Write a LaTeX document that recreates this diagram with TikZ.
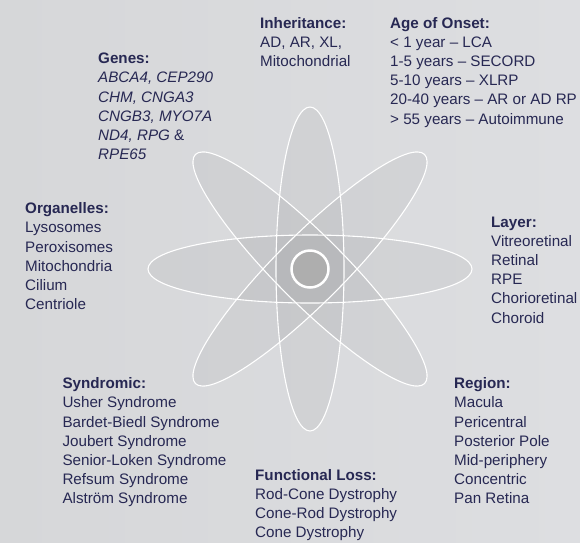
\documentclass[tikz,border=0pt]{standalone}
\usepackage{fontspec}
\setmainfont{Liberation Sans}
\definecolor{ink}{HTML}{272853}
\definecolor{bgl}{HTML}{D6D7D9}
\definecolor{bgr}{HTML}{DDDEE1}
\definecolor{hubgray}{HTML}{AEAEAE}
\begin{document}
\begin{tikzpicture}[x=1pt,y=-1pt,
  lbl/.style={anchor=north west, inner sep=0pt, align=left, text=ink,
              font=\fontsize{15.2}{19.2}\selectfont},
  petal/.style={fill=black, fill opacity=0.04},
  petaledge/.style={draw=white, line width=1.1pt},
  hubstyle/.style={circle, fill=hubgray, draw=white, line width=2.5pt,
                   minimum size=37pt, inner sep=0pt}]
\fill[left color=bgl, right color=bgr] (0,0) rectangle (580,542);
\useasboundingbox (0,0) rectangle (580,542);
\coordinate (c) at (310,269);
\foreach \a in {0,45,90,135}{
  \fill[petal, rotate around={\a:(c)}] (c) ellipse [x radius=162pt, y radius=34pt];
}
\foreach \a in {0,45,90,135}{
  \draw[petaledge, rotate around={\a:(c)}] (c) ellipse [x radius=162pt, y radius=34pt];
}
\node[hubstyle] (hub) at (c) {};

\node[lbl] (genes) at (98,52.8) {\textbf{Genes:}\\ \textit{ABCA4, CEP290}\\ \textit{CHM, CNGA3}\\ \textit{CNGB3, MYO7A}\\ \textit{ND4, RPG} \&\\ \textit{RPE65}};
\node[lbl] (inherit) at (260,16.8) {\textbf{Inheritance:}\\ AD, AR, XL,\\ Mitochondrial};
\node[lbl] (onset) at (390,16.8) {\textbf{Age of Onset:}\\ < 1 year – LCA\\ 1-5 years – SECORD\\ 5-10 years – XLRP\\ 20-40 years – AR or AD RP\\ > 55 years – Autoimmune};
\node[lbl] (organelles) at (25,202.4) {\textbf{Organelles:}\\ Lysosomes\\ Peroxisomes\\ Mitochondria\\ Cilium\\ Centriole};
\node[lbl] (layer) at (491,216.4) {\textbf{Layer:}\\ Vitreoretinal\\ Retinal\\ RPE\\ Chorioretinal\\ Choroid};
\node[lbl] (syndromic) at (62.3,377.4) {\textbf{Syndromic:}\\ Usher Syndrome\\ Bardet-Biedl Syndrome\\ Joubert Syndrome\\ Senior-Loken Syndrome\\ Refsum Syndrome\\ Alström Syndrome};
\node[lbl] (region) at (454,377.4) {\textbf{Region:}\\ Macula\\ Pericentral\\ Posterior Pole\\ Mid-periphery\\ Concentric\\ Pan Retina};
\node[lbl] (funcloss) at (255,469.1) {\textbf{Functional Loss:}\\ Rod-Cone Dystrophy\\ Cone-Rod Dystrophy\\ Cone Dystrophy};
\end{tikzpicture}
\end{document}
